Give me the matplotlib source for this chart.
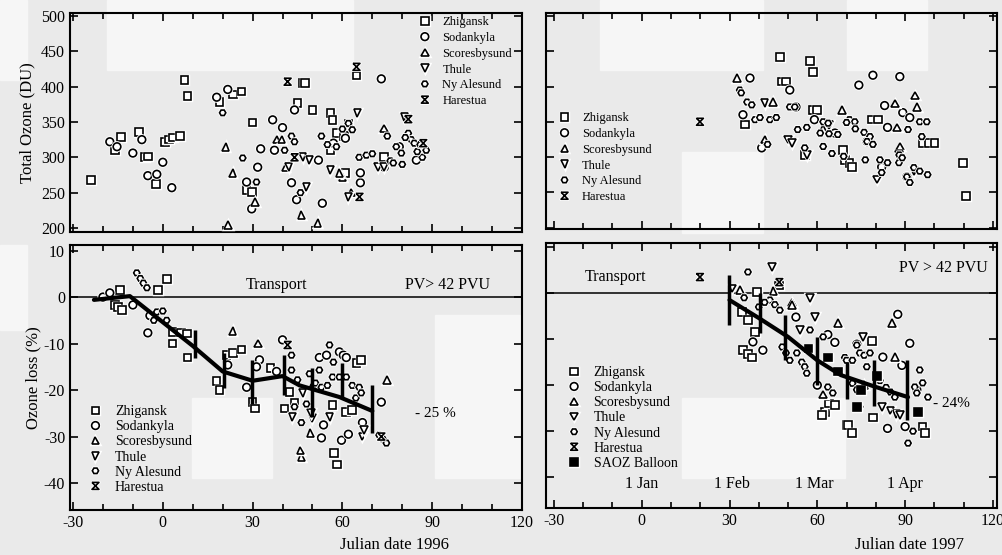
import matplotlib.pyplot as plt
import numpy as np
from matplotlib.path import Path
from matplotlib.patches import Rectangle
from matplotlib.ticker import MultipleLocator
import matplotlib.patheffects as pe

plt.rcParams['font.family'] = ['Liberation Serif', 'DejaVu Serif']
plt.rcParams['axes.unicode_minus'] = False

stations = ['Zhigansk', 'Sodankyla', 'Scoresbysund', 'Thule', 'Ny Alesund', 'Harestua']

# ---- 1996 total ozone (DU) ----
zhig96_x = [-24, -16, -14, -8, -6, -5, -2.3, 0.7, 2, 3.5, 5.7, 7.3, 8.3, 19, 23.5, 26.3, 28, 29.7,
            30, 45, 46.7, 47.5, 50, 56, 56.7, 58, 60.5, 62, 64.7, 61, 74, 56]
zhig96_y = [268, 310, 329, 336, 300, 301, 262, 322, 325, 328, 330, 409, 387, 378, 389, 393, 254, 251,
            349, 377, 405, 405, 367, 363, 353, 334, 330, 348, 416, 278, 300, 310]
sod96_x = [-17.7, -15.3, -10, -7, -5, -2, 0, 3, 18, 21.7, 28, 29.7, 31.7, 32.7, 36.7, 40, 37.3, 44,
           43, 44.7, 53.3, 52, 57, 66, 73, 74, 66, 84.7, 79, 61]
sod96_y = [322, 315, 306, 325, 274, 276, 293, 257, 385, 396, 265, 227, 286, 312, 353, 342, 310, 367,
           264, 240, 235, 296, 320, 264, 411, 286, 278, 296, 315, 327]
sco96_x = [21, 21.7, 23.3, 30.7, 38, 39.7, 41, 46.3, 51.7, 60, 74, 59, 63]
sco96_y = [315, 204, 278, 237, 325, 325, 286, 218, 207, 272, 341, 278, 250]
thu96_x = [46.7, 49, 65, 42, 80.7, 72, 74, 56, 48, 62]
thu96_y = [300, 296, 363, 286, 357, 286, 286, 282, 258, 244]
ny96_x = [20, 26.7, 31.3, 40.7, 43, 44, 53, 55, 58, 62, 63.3, 65.6, 68, 78, 79.7, 82, 83, 86.7,
          46, 60, 70, 76, 84, 88, 75, 81, 85, 77, 80, 86]
ny96_y = [363, 299, 265, 310, 330, 322, 330, 318, 315, 348, 339, 300, 303, 315, 306, 334, 325, 300,
          250, 340, 305, 295, 320, 310, 330, 328, 308, 292, 290, 318]
har96_x = [41.7, 64.7, 82, 87, 65.7, 44]
har96_y = [407, 428, 354, 320, 244, 300]

# ---- 1997 total ozone (DU) ----
zhig97_x = [35.3, 47.2, 57.5, 58.5, 48, 49.3, 58.5, 60, 69.4, 71, 78.6, 80.7, 96, 98, 100, 68.7,
            71.8, 109.7, 110.7, 55.7]
zhig97_y = [346, 442, 436, 421, 407, 407, 367, 367, 296, 292, 353, 353, 320, 320, 320, 310,
            286, 292, 245, 303]
sod97_x = [37, 34.6, 50.6, 59, 79, 88.2, 74.2, 83, 89.2, 91.6, 84, 41, 66, 77, 90.6, 82, 52.7]
sod97_y = [412, 360, 395, 353, 416, 414, 402, 373, 363, 356, 342, 313, 334, 322, 272, 286, 371]
sco97_x = [32.5, 44.8, 68.4, 86.5, 87.2, 88.2, 93.3, 94, 42, 62]
sco97_y = [412, 378, 367, 376, 342, 315, 387, 371, 325, 340]
thu97_x = [42, 50, 51.3, 80.4, 56.4, 64, 88, 93]
thu97_y = [377, 325, 320, 268, 303, 345, 303, 280]
ny97_x = [33.5, 34, 36, 37.6, 38.7, 40.4, 43.8, 46, 50.6, 52.3, 53.3, 56.4, 62, 63.7, 61, 64, 67,
          62, 65, 69, 71, 72.8, 70, 73, 76, 78, 77, 79, 76.4, 81.4, 84, 87.9, 82, 88, 89, 90.6,
          91.6, 93, 95, 97.7, 91, 95.7, 95, 97.4, 43, 55.7]
ny97_y = [395, 391, 378, 374, 353, 356, 353, 356, 371, 371, 339, 342, 350, 348, 334, 333, 332,
          315, 305, 301, 353, 350, 349, 340, 335, 329, 322, 318, 296, 296, 292, 292, 278, 303, 299,
          272, 264, 285, 280, 275, 339, 329, 350, 350, 318, 313]
har97_x = [19.9]
har97_y = [350]

# ---- 1996 ozone loss (%) ----
zhigL96_x = [-14.3, -16, -15, -13.7, 1.3, -1.7, 3.3, 6, 8, 3.3, 8.3, 18, 19, 21.3, 23.5, 26.3, 30,
             30.7, 36, 40.7, 57.3, 58.3, 56.7, 61.3, 63.3, 64.7, 66.3, 42.3, 44]
zhigL96_y = [1.5, -1.7, -2.1, -2.8, 3.9, 1.5, -7.5, -7.6, -7.8, -10, -13, -18, -20, -12.5, -12,
             -11.3, -22.6, -24, -15.3, -24, -33.5, -36, -23.2, -24.7, -24.3, -14.2, -13.5, -20.4, -22.8]
sodL96_x = [-20, -17.7, -10, -5, 21.7, 28, 32.3, 31.3, 38, 40, 53, 53.7, 59, 60.3, 61.3, 66.7, 73,
            59.7, 62, 52.3, 54.7, -4.3]
sodL96_y = [0, 0.9, -1.7, -7.7, -14.6, -19.4, -13.5, -15, -16, -9.2, -30.3, -27.5, -11.8, -12.5,
            -13, -27, -22.6, -30.8, -29.5, -13, -12.5, -4]
scoL96_x = [23.3, 31.7, 46.3, 46, 49.3, 75, 50]
scoL96_y = [-7.3, -10, -34.4, -33, -29.3, -17.8, -19]
thuL96_x = [50, 49.5, 55.7, 43.3, 66.7, 67.3, 46.7]
thuL96_y = [-26, -25, -25.8, -25.8, -30, -28.6, -20.6]
nyL96_x = [-8.7, -7.5, -6.5, -5.3, -2, -3, 0, 1.3, 43, 43, 45, 49, 51, 53, 55.7, 52.3, 56.7, 59,
           61.3, 63.3, 65.6, 64.5, 66.3, 72.3, 73.5, 74.7, 44, 48, 46.3, 55, 57]
nyL96_y = [5.2, 4, 3, 2, -3.2, -5, -3, -5, -12.5, -15.7, -17.8, -16.5, -18.5, -19.4, -10.3, -15.7,
           -17.2, -17.2, -17.2, -19, -19.4, -21.7, -20.6, -29.7, -30.5, -31.4, -23.6, -23, -27, -19, -14]
harL96_x = [41.7, 73]
harL96_y = [-10.3, -30]

trend96_x = [-23, -11, 10, 20, 30, 40, 45.7, 59, 70]
trend96_y = [-0.6, 0.2, -10.5, -16, -18, -17, -19, -21.5, -24.5]
bar96_x = [10.7, 20.3, 29.7, 40.5, 49.7, 60, 70]
bar96_lo = [-13.1, -19.6, -23, -21, -25.8, -21.5, -29.3]
bar96_hi = [-7.1, -12, -13.5, -12.5, -15.3, -14.2, -19]

# ---- 1997 ozone loss (%) ----
zhigL97_x = [39.4, 34.2, 36.3, 34.6, 36.3, 37.6, 38.7, 47, 62.6, 61.6, 70, 78.6, 79, 96, 96.7,
             70.4, 71.8, 64, 66]
zhigL97_y = [0.2, -4.1, -5.9, -12.4, -13.2, -14, -8.5, 1.7, -25.9, -26.5, -28.7, -10.4, -27, -29,
             -30.4, -28.7, -30.4, -24, -24.3]
sodL97_x = [38, 41.4, 52.7, 66, 73.5, 91.6, 82.4, 88.9, 84, 87.5, 90, 63.6, 60, 94]
sodL97_y = [-10.6, -12.4, -5.2, -10.7, -11.1, -10.9, -13.9, -15.7, -29.4, -4.6, -29, -9, -20, -21]
scoL97_x = [33.5, 51.3, 51.3, 67, 86.5, 85.5, 76, 62, 45]
scoL97_y = [0.7, -2, -2.6, -6.5, -13.9, -6.5, -20, -22, 0.5]
thuL97_x = [44.5, 57.5, 59.2, 75.6, 82, 85, 87, 88.2, 54, 31]
thuL97_y = [5.7, -1.1, -5.2, -9.6, -24.7, -25.5, -26.2, -26.5, -8, 1]
nyL97_x = [36.3, 43.8, 45.5, 47.2, 48, 49.3, 50.6, 53, 54.7, 55.7, 56.4, 57.5, 62, 63.6, 65.3,
           69.4, 70, 73.5, 72, 74.5, 76, 78, 72, 76.9, 81.4, 83.5, 85, 86.5, 93.3, 94, 95, 96,
           97.8, 73.5, 74.5, 91, 92.7, 35, 40, 42]
nyL97_y = [4.6, -1.5, -2.5, -3.7, -11.7, -13, -14.6, -13, -15, -16, -17.4, -8, -9.5, -20.4, -21.7,
           -14, -14.6, -11.3, -19.6, -13, -13.5, -13, -14.6, -16, -19, -20.5, -21.5, -22.6, -20.4,
           -21.7, -16.7, -19.5, -22.6, -21, -24.7, -32.6, -30, -1, -3, -2]
harL97_x = [19.9, 47]
harL97_y = [3.5, 2.4]
saoz97_x = [63.6, 75, 73.5, 94.3, 57, 80.5, 67]
saoz97_y = [-14, -21, -24.7, -25.9, -12, -18, -17]

trend97_x = [30, 40, 50, 60, 68, 80, 91]
trend97_y = [-1.5, -5.4, -9.5, -14.6, -17.8, -20.4, -22.6]
bar97_x = [29.8, 40.4, 49, 59.8, 70, 79.5, 90.6]
bar97_lo = [-7, -8.7, -14.6, -20, -23, -24.5, -27.6]
bar97_hi = [3.9, 0, -4.8, -9.5, -15, -14.6, -14.6]

month_names = ['1 Jan', '1 Feb', '1 Mar', '1 Apr']
month_days = [0, 31, 59, 90]

# hourglass marker for Harestua
hourglass = Path([(-1, 1), (1, 1), (-1, -1), (1, -1), (-1, 1)],
                 [Path.MOVETO, Path.LINETO, Path.LINETO, Path.LINETO, Path.LINETO])
markers = ['s', 'o', '^', 'v', 'H', hourglass]
sizes = [5.5, 5.5, 5.5, 5.5, 4.5, 5]
halo = [pe.withStroke(linewidth=2.5, foreground='white')]

W, H = 1003, 555
fig = plt.figure(figsize=(W / 100, H / 100), dpi=100)
fig.patch.set_facecolor('#eaeaea')

def px_axes(l, t, r, b):
    ax = fig.add_axes([l / W, 1 - b / H, (r - l) / W, (b - t) / H])
    ax.set_zorder(2)
    return ax

# scan blotches
for (l, t, r, b) in [(107, 0, 353, 70), (600, 0, 763, 70), (847, 0, 927, 70), (682, 152, 763, 233),
                     (192, 398, 272, 478), (435, 315, 520, 478), (682, 398, 845, 478),
                     (0, 0, 27, 80), (0, 245, 27, 330)]:
    fig.patches.append(Rectangle((l / W, 1 - b / H), (r - l) / W, (b - t) / H,
                                 transform=fig.transFigure, color='#f6f6f6', zorder=0))

ax1 = px_axes(70, 13, 522, 232)
ax2 = px_axes(546, 13, 997, 229)
ax3 = px_axes(70, 245, 522, 510)
ax4 = px_axes(546, 243, 997, 508)

def scatter(ax, xs, ys, m, label=None, filled=False, ms=5.5):
    ax.plot(xs, ys, linestyle='none', marker=m, ms=ms, mec='black',
            mfc='black' if filled else 'white', mew=1.2, label=label,
            path_effects=halo, zorder=3)

def style(ax, xlim, ylim, ymajor, xlabels, ylabels):
    ax.set_facecolor('none')
    ax.set_xlim(*xlim)
    ax.set_ylim(*ylim)
    ax.xaxis.set_major_locator(MultipleLocator(30))
    ax.xaxis.set_minor_locator(MultipleLocator(10))
    ax.yaxis.set_major_locator(MultipleLocator(ymajor))
    ax.tick_params(which='both', direction='in', top=True, right=True, labelsize=11.5,
                   labelbottom=xlabels, labelleft=ylabels)
    ax.tick_params(which='major', length=6, width=1.2)
    ax.tick_params(which='minor', length=4, width=1.2)
    for s in ax.spines.values():
        s.set_linewidth(1.5)

sets96 = [(zhig96_x, zhig96_y), (sod96_x, sod96_y), (sco96_x, sco96_y),
          (thu96_x, thu96_y), (ny96_x, ny96_y), (har96_x, har96_y)]
sets97 = [(zhig97_x, zhig97_y), (sod97_x, sod97_y), (sco97_x, sco97_y),
          (thu97_x, thu97_y), (ny97_x, ny97_y), (har97_x, har97_y)]
setsL96 = [(zhigL96_x, zhigL96_y), (sodL96_x, sodL96_y), (scoL96_x, scoL96_y),
           (thuL96_x, thuL96_y), (nyL96_x, nyL96_y), (harL96_x, harL96_y)]
setsL97 = [(zhigL97_x, zhigL97_y), (sodL97_x, sodL97_y), (scoL97_x, scoL97_y),
           (thuL97_x, thuL97_y), (nyL97_x, nyL97_y), (harL97_x, harL97_y)]

for ax, sets in [(ax1, sets96), (ax2, sets97), (ax3, setsL96), (ax4, setsL97)]:
    for name, m, ms, (xs, ys) in zip(stations, markers, sizes, sets):
        scatter(ax, xs, ys, m, label=name, ms=ms)

scatter(ax4, saoz97_x, saoz97_y, 's', label='SAOZ Balloon', filled=True)

# trend lines and bars
for ax, tx, ty, bx, blo, bhi in [(ax3, trend96_x, trend96_y, bar96_x, bar96_lo, bar96_hi),
                                 (ax4, trend97_x, trend97_y, bar97_x, bar97_lo, bar97_hi)]:
    ax.plot(tx, ty, color='black', lw=3, zorder=4, solid_capstyle='round')
    ax.vlines(bx, blo, bhi, color='black', lw=2.5, zorder=4)
    ax.axhline(0, color='black', lw=1.1, zorder=2)

style(ax1, (-31, 120), (194.3, 504.2), 50, False, True)
style(ax2, (-32.7, 121.4), (198, 504.2), 50, False, False)
style(ax3, (-31, 120), (-45.8, 11.2), 10, True, True)
style(ax4, (-32.7, 121.4), (-46.7, 10.9), 10, True, False)

ax1.set_ylabel('Total Ozone (DU)', fontsize=12, labelpad=4)
ax3.set_ylabel('Ozone loss (%)', fontsize=12, labelpad=2)

leg_kw = dict(frameon=False, loc='upper left', handlelength=0.8, handletextpad=1.0,
              borderpad=0, borderaxespad=0)
ax1.legend(bbox_to_anchor=(0.774, 0.985), fontsize=9, labelspacing=0.3, **leg_kw)
ax2.legend(bbox_to_anchor=(0.03, 0.54), fontsize=9, labelspacing=0.3, **leg_kw)
ax3.legend(bbox_to_anchor=(0.044, 0.395), fontsize=10, labelspacing=0.15, **leg_kw)
ax4.legend(bbox_to_anchor=(0.05, 0.535), fontsize=10, labelspacing=0.15, **leg_kw)

ax3.text(38, 2.5, 'Transport', fontsize=11.5, ha='center', va='center')
ax3.text(95, 2.5, 'PV> 42 PVU', fontsize=11.5, ha='center', va='center')
ax3.text(91, -25, '- 25 %', fontsize=11, ha='center', va='center')
ax4.text(-9, 3.5, 'Transport', fontsize=11.5, ha='center', va='center')
ax4.text(103, 5.5, 'PV > 42 PVU', fontsize=11.5, ha='center', va='center')
ax4.text(99.5, -24, '- 24%', fontsize=11, ha='left', va='center')
for name, d in zip(month_names, month_days):
    ax4.text(d, -41.5, name, fontsize=11.5, ha='center', va='center')

fig.text(395 / W, 1 - 545 / H, 'Julian date 1996', fontsize=12, ha='center', va='center')
fig.text(910 / W, 1 - 545 / H, 'Julian date 1997', fontsize=12, ha='center', va='center')

fig.savefig('out.png', dpi=100, facecolor=fig.get_facecolor())
